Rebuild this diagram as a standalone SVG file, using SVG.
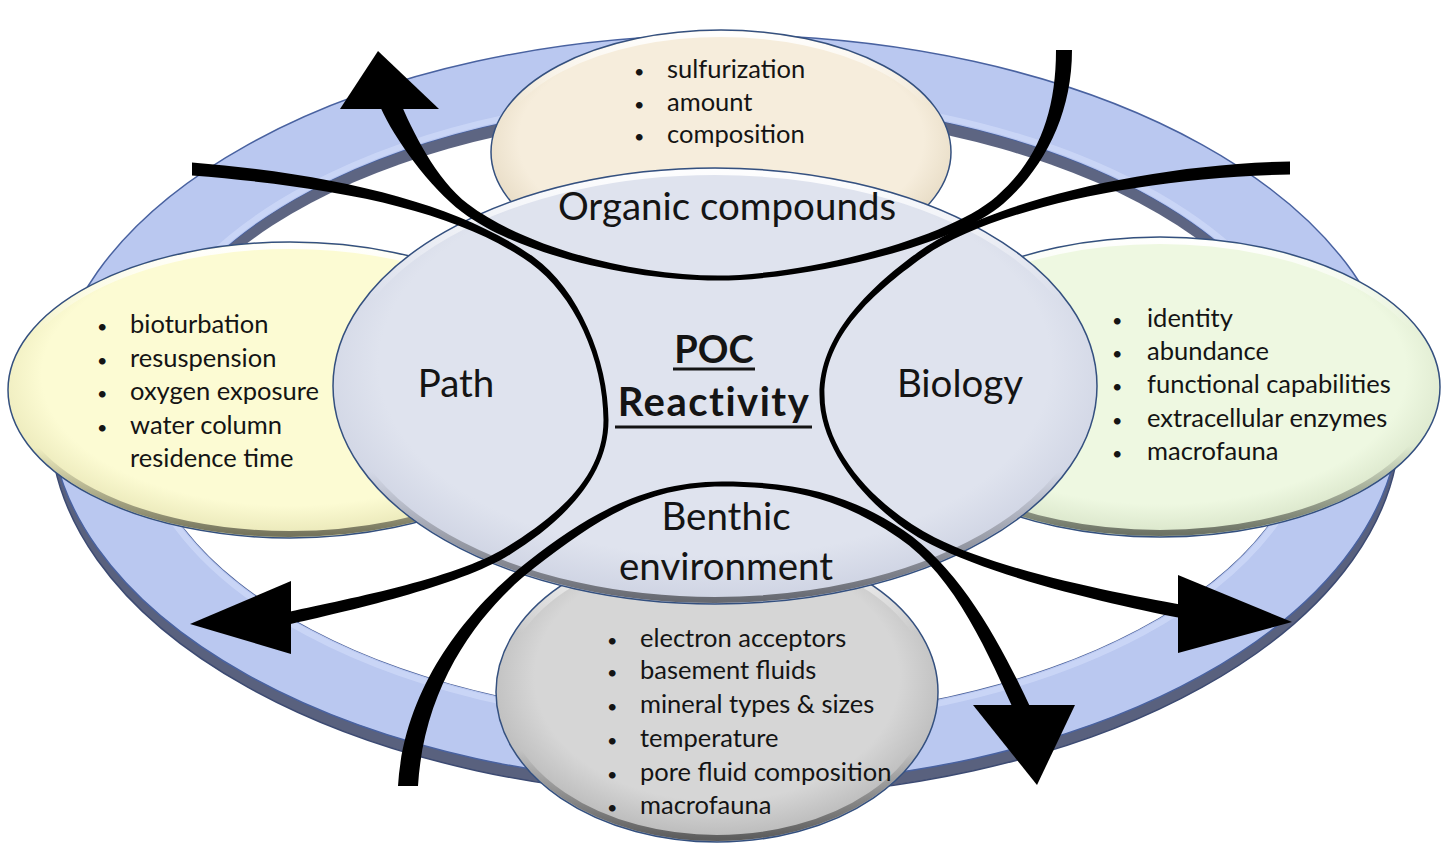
<svg xmlns="http://www.w3.org/2000/svg" width="1450" height="848" viewBox="0 0 1450 848">
<defs>
<style>
.t{font-family:Lato,"Open Sans","Liberation Sans",sans-serif;fill:#141414}
.li{font-size:25.5px}
.bu{font-size:18px}
.lab{font-size:38.5px}
.poc{font-weight:bold}
.edge{fill:none;stroke:#34507f;stroke-width:1.5}
.bev{fill:none;stroke:url(#bevel);stroke-width:6}
.arrow{fill:#000;stroke:none}
</style>
<linearGradient id="bevel" x1="0" y1="0" x2="0" y2="1">
<stop offset="0" stop-color="#ffffff" stop-opacity="0.95"/>
<stop offset="0.3" stop-color="#ffffff" stop-opacity="0"/>
<stop offset="0.7" stop-color="#000000" stop-opacity="0"/>
<stop offset="1" stop-color="#000000" stop-opacity="0.5"/>
</linearGradient>
<radialGradient id="gC" cx="0.5" cy="0.45" r="0.55"><stop offset="0.8" stop-color="#dfe3ee"/><stop offset="1" stop-color="#cdd2e2"/></radialGradient>
<radialGradient id="gT" cx="0.5" cy="0.45" r="0.55"><stop offset="0.8" stop-color="#f6eddc"/><stop offset="1" stop-color="#e4d8c0"/></radialGradient>
<radialGradient id="gL" cx="0.5" cy="0.45" r="0.55"><stop offset="0.8" stop-color="#fcfbd3"/><stop offset="1" stop-color="#e8e6b6"/></radialGradient>
<radialGradient id="gR" cx="0.5" cy="0.45" r="0.55"><stop offset="0.8" stop-color="#eef8e1"/><stop offset="1" stop-color="#d8e4c8"/></radialGradient>
<radialGradient id="gB" cx="0.5" cy="0.45" r="0.55"><stop offset="0.75" stop-color="#d6d6d6"/><stop offset="1" stop-color="#b8b8b8"/></radialGradient>
<clipPath id="holeClip"><ellipse cx="725" cy="410" rx="585" ry="310"/></clipPath>
</defs>

<g id="ring">
<ellipse cx="725" cy="422" rx="675" ry="375" fill="#59617e" stroke="#3c4a72" stroke-width="1.5"/>
<path d="M50,410 A675,375 0 1 0 1400,410 A675,375 0 1 0 50,410 Z M140,410 A585,310 0 1 0 1310,410 A585,310 0 1 0 140,410 Z" fill="#bac8f0" fill-rule="evenodd" stroke="#4962a0" stroke-width="1.5"/>
<ellipse cx="725" cy="410" rx="590" ry="315" fill="none" stroke="#d3ddfa" stroke-width="6" opacity="0.6"/>
<g clip-path="url(#holeClip)">
<rect x="100" y="80" width="1250" height="700" fill="#5d6582"/>
<ellipse cx="725" cy="422" rx="585" ry="310" fill="#ffffff"/>
</g>
</g>

<g id="node-path-factors">
<ellipse cx="290" cy="390" rx="282" ry="148" fill="url(#gL)"/>
<ellipse cx="290" cy="390" rx="278" ry="144" class="bev"/>
<ellipse cx="290" cy="390" rx="282" ry="148" class="edge"/>
<text class="t bu" x="97" y="333">•</text><text class="t li" x="130" y="333">bioturbation</text>
<text class="t bu" x="97" y="367">•</text><text class="t li" x="130" y="367">resuspension</text>
<text class="t bu" x="97" y="400">•</text><text class="t li" x="130" y="400">oxygen exposure</text>
<text class="t bu" x="97" y="434">•</text><text class="t li" x="130" y="434">water column</text>
<text class="t li" x="130" y="467">residence time</text>
</g>

<g id="node-biology-factors">
<ellipse cx="1160" cy="387" rx="280" ry="150" fill="url(#gR)"/>
<ellipse cx="1160" cy="387" rx="276" ry="146" class="bev"/>
<ellipse cx="1160" cy="387" rx="280" ry="150" class="edge"/>
<text class="t bu" x="1112" y="327">•</text><text class="t li" x="1147" y="327">identity</text>
<text class="t bu" x="1112" y="360">•</text><text class="t li" x="1147" y="360">abundance</text>
<text class="t bu" x="1112" y="393">•</text><text class="t li" x="1147" y="393">functional capabilities</text>
<text class="t bu" x="1112" y="427">•</text><text class="t li" x="1147" y="427">extracellular enzymes</text>
<text class="t bu" x="1112" y="460">•</text><text class="t li" x="1147" y="460">macrofauna</text>
</g>

<g id="node-organic-factors">
<ellipse cx="721" cy="152" rx="230" ry="122" fill="url(#gT)"/>
<ellipse cx="721" cy="152" rx="226" ry="118" class="bev"/>
<ellipse cx="721" cy="152" rx="230" ry="122" class="edge"/>
<text class="t bu" x="634" y="78">•</text><text class="t li" x="667" y="78">sulfurization</text>
<text class="t bu" x="634" y="111">•</text><text class="t li" x="667" y="111">amount</text>
<text class="t bu" x="634" y="143">•</text><text class="t li" x="667" y="143">composition</text>
</g>

<g id="node-benthic-factors">
<ellipse cx="717" cy="692" rx="221" ry="150" fill="url(#gB)"/>
<ellipse cx="717" cy="692" rx="217" ry="146" class="bev"/>
<ellipse cx="717" cy="692" rx="221" ry="150" class="edge"/>
<text class="t bu" x="607" y="647">•</text><text class="t li" x="640" y="647">electron acceptors</text>
<text class="t bu" x="607" y="679">•</text><text class="t li" x="640" y="679">basement fluids</text>
<text class="t bu" x="607" y="713">•</text><text class="t li" x="640" y="713">mineral types &amp; sizes</text>
<text class="t bu" x="607" y="747">•</text><text class="t li" x="640" y="747">temperature</text>
<text class="t bu" x="607" y="781">•</text><text class="t li" x="640" y="781">pore fluid composition</text>
<text class="t bu" x="607" y="814">•</text><text class="t li" x="640" y="814">macrofauna</text>
</g>

<g id="node-center">
<ellipse cx="715" cy="386" rx="382" ry="218" fill="url(#gC)"/>
<ellipse cx="715" cy="386" rx="378" ry="214" class="bev"/>
<ellipse cx="715" cy="386" rx="382" ry="218" class="edge"/>
<text class="t lab" x="727" y="220" text-anchor="middle">Organic compounds</text>
<text class="t lab" x="456" y="397" text-anchor="middle">Path</text>
<text class="t lab" x="960" y="397" text-anchor="middle">Biology</text>
<text class="t lab" x="726" y="530" text-anchor="middle">Benthic</text>
<text class="t lab" x="726" y="580" text-anchor="middle">environment</text>
<text class="t poc" x="714" y="363" text-anchor="middle" font-size="38">POC</text>
<text class="t poc" x="714" y="416" text-anchor="middle" font-size="40" letter-spacing="1.5">Reactivity</text>
<line x1="673" y1="369" x2="755" y2="369" stroke="#141414" stroke-width="3"/>
<line x1="615" y1="427" x2="812" y2="427" stroke="#141414" stroke-width="3"/>
</g>

<g id="connectors">
<path class="arrow" d="M1072,50 C1072,115 1043.3,168.75 1003.3,203.75 C953.3,247.75 800,280.5 718,280.5 C630,280.5 517,254 462,212 C430,188 394,138 380.8,108 L399.2,100 C412,130 436,180 468,204 C523,246 630,275.5 718,275.5 C800,275.5 946.7,240.25 996.7,196.25 C1036.7,161.25 1056,115 1056,50 Z"/>
<polygon class="arrow" points="378,51 340,109 439,109"/>
<path class="arrow" d="M192,162.5 C342.5,174.5 461,205.2 534,257.2 C578.5,289.2 608.5,360 608.5,420 C608.5,480 556.9,525.25 510.1,554.4 C459.1,586.2 344.9,611.7 286.3,624.9 L283.7,613.1 C342.3,599.9 454.9,579.4 505.9,547.6 C552.6,518.45 603.5,480 603.5,420 C603.5,360 574.5,294.8 530,262.8 C457,210.8 341.5,187.5 192,175.5 Z"/>
<polygon class="arrow" points="190,624 291,581 291,654"/>
<path class="arrow" d="M1290,161.5 C1140,164.5 982.7,205 917.9,252.2 C869.3,287.6 819.5,335 819.5,395 C819.5,455 877.8,517.6 931.2,544.6 C1002.4,580.6 1130,608.6 1188.8,619.4 L1191.2,606.6 C1132.4,595.8 1006,573.4 934.8,537.4 C881.4,510.4 824.5,455 824.5,395 C824.5,335 873.5,293.2 922.1,257.8 C986.9,210.6 1140,177.5 1290,174.5 Z"/>
<polygon class="arrow" points="1292,622 1178,575 1178,653"/>
<path class="arrow" d="M398,786 C404.6,675.6 481.85,597 529.25,560.4 C584.55,517.7 642,481.5 722,481.5 C802,481.5 853.7,496.7 903.5,530.3 C961.6,569.5 1002.9,647.9 1032.3,711.6 L1017.7,718.4 C988.3,654.7 956.6,576.9 898.5,537.7 C848.7,504.1 802,486.5 722,486.5 C642,486.5 590.05,524.9 534.75,567.6 C487.35,604.2 424.6,676.8 418,786 Z"/>
<polygon class="arrow" points="973,705 1075,705 1037,785"/>
</g>
</svg>
